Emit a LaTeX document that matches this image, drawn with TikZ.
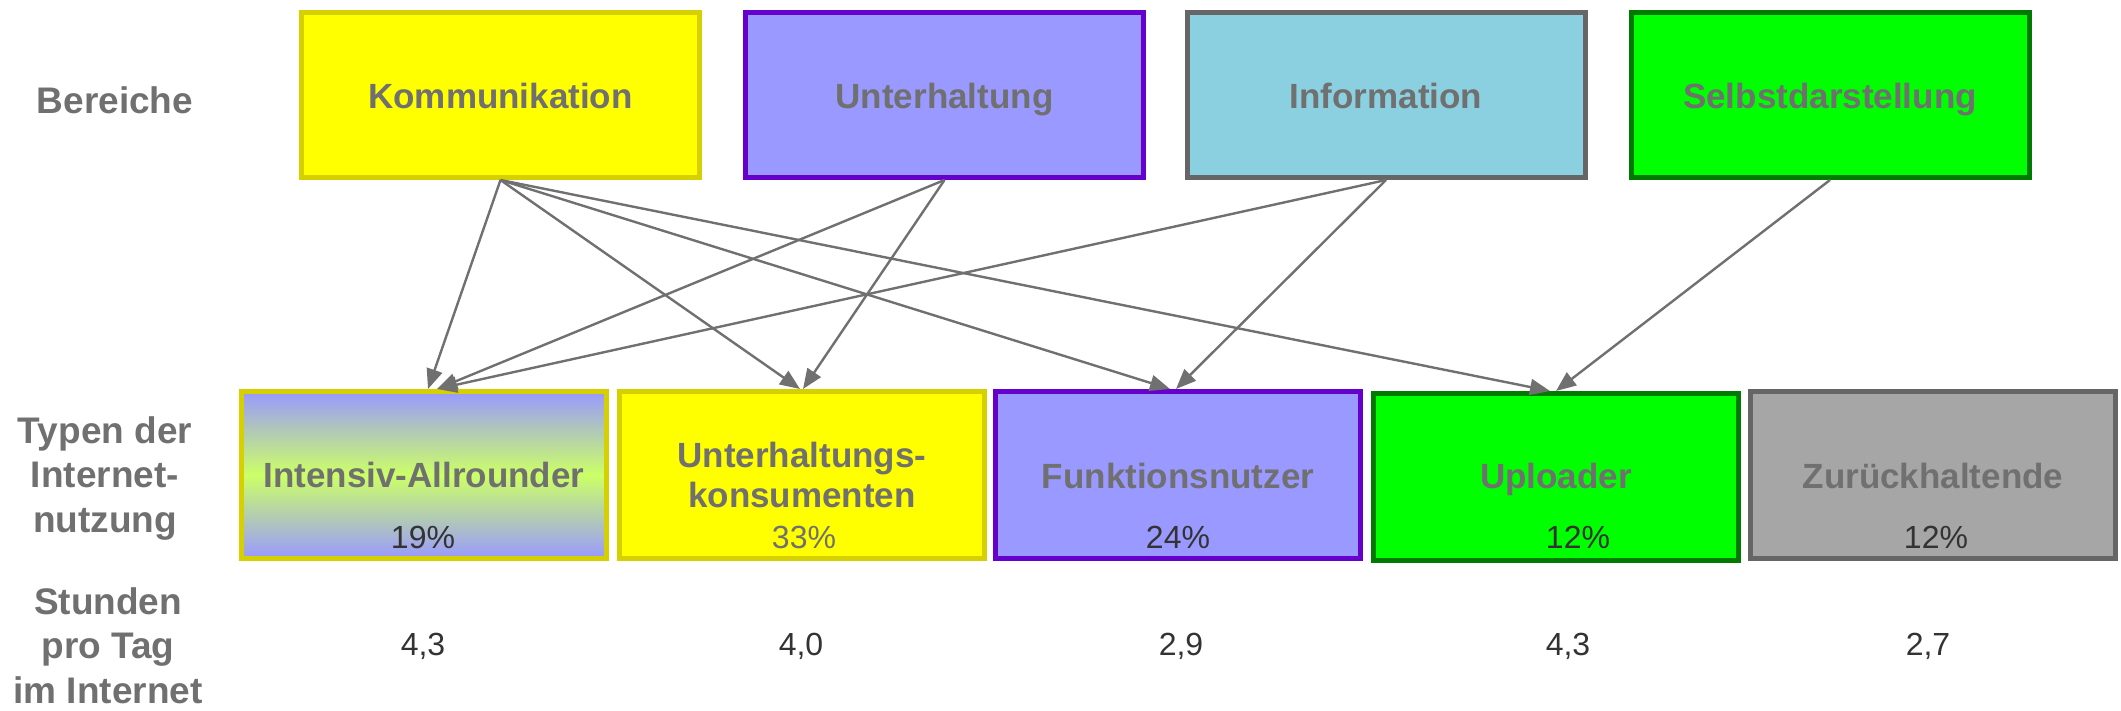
\documentclass[tikz,border=0pt]{standalone}
\usepackage{fontspec}
\setmainfont{Liberation Sans}
\usetikzlibrary{arrows.meta}
\definecolor{lbl}{HTML}{707070}
\definecolor{num}{HTML}{333333}
\definecolor{yel}{HTML}{FFFF00}
\definecolor{yelb}{HTML}{D6D000}
\definecolor{vio}{HTML}{9999FF}
\definecolor{viob}{HTML}{6600CC}
\definecolor{cya}{HTML}{8BD0E0}
\definecolor{grb}{HTML}{666666}
\definecolor{grn}{HTML}{00FF00}
\definecolor{grnb}{HTML}{007A00}
\definecolor{lime}{HTML}{CCFF66}
\definecolor{gry}{HTML}{A6A6A6}
\begin{document}
\begin{tikzpicture}[x=1pt,y=-1pt,
 topbox/.style={draw,line width=5pt,minimum width=398pt,minimum height=165pt,inner sep=0pt},
 botbox/.style={draw,line width=5pt,minimum width=365pt,minimum height=167pt,inner sep=0pt},
 lab/.style={text=lbl,font=\fontsize{35}{44.5}\selectfont\bfseries,inner sep=0pt,anchor=base,align=center},
 side/.style={lab,font=\fontsize{37}{44.5}\selectfont\bfseries},
 pct/.style={text=num,font=\fontsize{32}{38}\selectfont,inner sep=0pt,anchor=base},
 conn/.style={draw=lbl,line width=2.4pt,-{Triangle[length=20pt,width=16pt]}}]
\path[use as bounding box] (0,0) rectangle (2121,710);

% top boxes
\node[topbox,fill=yel,draw=yelb] (K) at (500.5,95) {};
\node[topbox,fill=vio,draw=viob] (U) at (944.5,95) {};
\node[topbox,fill=cya,draw=grb] (I) at (1386,95) {};
\node[topbox,fill=grn,draw=grnb] (S) at (1830,95) {};
\node[lab] (tK) at (500.5,108) {Kommunikation};
\node[lab] (tU) at (944.5,108) {Unterhaltung};
\node[lab] (tI) at (1386,108) {Information};
\node[lab] (tS) at (1830,108) {Selbstdarstellung};

% bottom boxes
\node[botbox,draw=yelb,top color=vio,bottom color=vio,middle color=lime] (IA) at (424,475) {};
\node[botbox,fill=yel,draw=yelb] (UK) at (802,475) {};
\node[botbox,fill=vio,draw=viob] (FN) at (1178,475) {};
\node[botbox,fill=grn,draw=grnb] (UP) at (1556,477) {};
\node[botbox,fill=gry,draw=grb] (ZH) at (1933,475) {};

\node[lab] (tIA) at (424,487) {Intensiv-Allrounder};
\node[lab,font=\fontsize{35}{39.5}\selectfont\bfseries] (tUK) at (802,507) {Unterhaltungs-\\konsumenten};
\node[lab] (tFN) at (1178,488) {Funktionsnutzer};
\node[lab] (tUP) at (1556,488) {Uploader};
\node[lab] (tZH) at (1933,488) {Zurückhaltende};

\node[pct] (pIA) at (423,548) {19\%};
\node[pct,text=lbl] (pUK) at (804,548) {33\%};
\node[pct] (pFN) at (1178,548) {24\%};
\node[pct] (pUP) at (1578,548) {12\%};
\node[pct] (pZH) at (1936,548) {12\%};

% left labels
\node[side] (lB) at (115,113) {Bereiche};
\node[side] (lT) at (105,532) {Typen der\\Internet-\\nutzung};
\node[side] (lS) at (108,703) {Stunden\\pro Tag\\im Internet};

% hours
\node[pct] (hIA) at (423,655) {4,3};
\node[pct] (hUK) at (801,655) {4,0};
\node[pct] (hFN) at (1181,655) {2,9};
\node[pct] (hUP) at (1568,655) {4,3};
\node[pct] (hZH) at (1928,655) {2,7};

% connectors
\draw[conn] (K.south) -- ([xshift=4pt]IA.north);
\draw[conn] (K.south) -- ([xshift=-2pt]UK.north);
\draw[conn] (K.south) -- ([xshift=-8pt]FN.north);
\draw[conn] (K.south) -- ([xshift=-6pt]UP.north);
\draw[conn] (U.south) -- ([xshift=13pt]IA.north);
\draw[conn] (U.south) -- ([xshift=1pt]UK.north);
\draw[conn] (I.south) -- ([xshift=13pt]IA.north);
\draw[conn] (I.south) -- ([xshift=-2pt]FN.north);
\draw[conn] (S.south) -- (UP.north);
\end{tikzpicture}
\end{document}
